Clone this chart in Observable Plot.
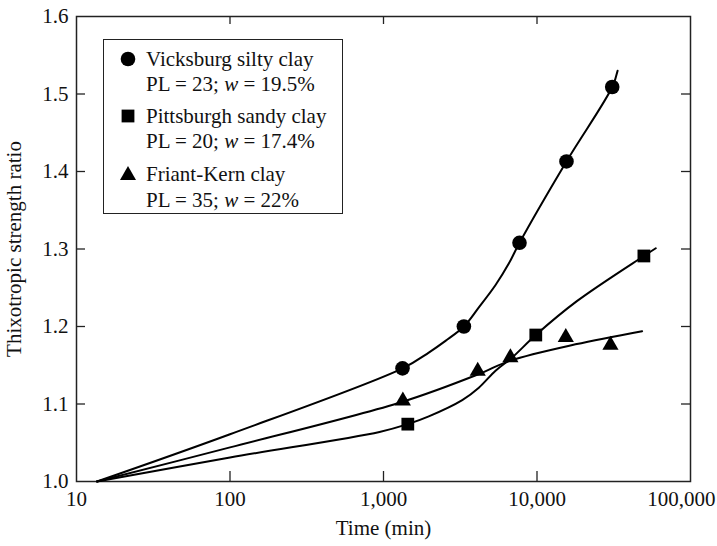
<!DOCTYPE html>
<html>
<head>
<meta charset="utf-8">
<script src="https://cdn.jsdelivr.net/npm/d3@7"></script>
<script src="https://cdn.jsdelivr.net/npm/@observablehq/plot@0.6"></script>
<style>
  body { margin: 0; background: #fff; }
  #wrap { position: relative; width: 717px; height: 546px; font-family: "Liberation Serif", serif; }
  #legend { position: absolute; left: 103px; top: 39px; width: 240px; height: 175px; box-sizing: border-box;
            border: 1.5px solid #222; background: #fff; }
  .row { position: absolute; left: 42px; font-size: 21px; line-height: 1; white-space: nowrap; color: #111;
         transform: translateY(-50%); }
  .sym { position: absolute; left: 15px; width: 18px; height: 18px; transform: translateY(-50%); }
</style>
</head>
<body>
<div id="wrap"></div>
<script>
// ---- Data ----
const seriesNames = ["Vicksburg silty clay", "Pittsburgh sandy clay", "Friant-Kern clay"];
const seriesProps = ["PL = 23; <i>w</i> = 19.5%", "PL = 20; <i>w</i> = 17.4%", "PL = 35; <i>w</i> = 22%"];
const seriesSymbols = ["circle", "square", "triangle"];

// measured points
const vicksX = [1330, 3340, 7690, 15560, 30900];
const vicksY = [1.146, 1.200, 1.308, 1.413, 1.509];
const pittsX = [1440, 9820, 49700];
const pittsY = [1.074, 1.189, 1.291];
const friantX = [1337, 4110, 6710, 15400, 30100];
const friantY = [1.104, 1.1425, 1.160, 1.186, 1.176];

// fitted curves
const vicksCurveX = [13.6, 100, 1330, 1972, 2535, 3340, 4180, 5370, 6550, 7690, 15560, 30900, 33500];
const vicksCurveY = [1.0, 1.061, 1.146, 1.1664, 1.1815, 1.200, 1.2246, 1.2535, 1.2812, 1.308, 1.413, 1.509, 1.530];
const pittsCurveX = [13.6, 100, 942, 1440, 1972, 3258, 4180, 5370, 6890, 9820, 18280, 49700, 59400];
const pittsCurveY = [1.0, 1.031, 1.064, 1.074, 1.084, 1.105, 1.121, 1.143, 1.160, 1.189, 1.233, 1.291, 1.301];
const friantCurveX = [13.6, 100, 1337, 4110, 6710, 17800, 48400];
const friantCurveY = [1.0, 1.044, 1.103, 1.138, 1.156, 1.177, 1.194];

// axis ticks
const xTicks = [10, 100, 1000, 10000];
const xLastTick = [100000];
const yTicks = [1.0, 1.1, 1.2, 1.3, 1.4, 1.5, 1.6];
const xInner = [100, 1000, 10000];
const yInner = [1.1, 1.2, 1.3, 1.4, 1.5];

const pts = (xs, ys) => xs.map((x, i) => ({x, y: ys[i]}));

const W = 717, H = 546, mL = 76, mR = 27, mT = 16, mB = 65;
const innerW = W - mL - mR, innerH = H - mT - mB;
const ink = "#111";

const chart = Plot.plot({
  width: W, height: H,
  marginLeft: mL, marginRight: mR, marginTop: mT, marginBottom: mB,
  style: {fontFamily: "Liberation Serif, serif", fontSize: "21px", color: ink, background: "#fff"},
  x: {type: "log", domain: [10, 100000]},
  y: {domain: [1.0, 1.6]},
  marks: [
    Plot.axisX(xTicks, {tickSize: 0, tickPadding: 10, tickFormat: d3.format(","),
      label: "Time (min)", labelAnchor: "center", labelArrow: "none", labelOffset: 53}),
    Plot.axisX(xLastTick, {tickSize: 0, tickPadding: 10, tickFormat: d3.format(","),
      textAnchor: "end", dx: 25, label: null}),
    Plot.axisY(yTicks, {tickSize: 0, tickPadding: 8, tickFormat: d3.format(".1f"),
      label: "Thixotropic strength ratio", labelAnchor: "center", labelArrow: "none", labelOffset: 70}),
    Plot.ruleX(xInner, {stroke: "#222", strokeWidth: 1.3, insetTop: innerH - 10}),
    Plot.ruleX(xInner, {stroke: "#222", strokeWidth: 1.3, insetBottom: innerH - 8}),
    Plot.ruleY(yInner, {stroke: "#222", strokeWidth: 1.3, insetRight: innerW - 9}),
    Plot.ruleY(yInner, {stroke: "#222", strokeWidth: 1.3, insetLeft: innerW - 9}),
    Plot.frame({stroke: "#222", strokeWidth: 1.5}),
    Plot.line(pts(vicksCurveX, vicksCurveY), {x: "x", y: "y", curve: "catmull-rom", stroke: "#000", strokeWidth: 2}),
    Plot.line(pts(pittsCurveX, pittsCurveY), {x: "x", y: "y", curve: "catmull-rom", stroke: "#000", strokeWidth: 2}),
    Plot.line(pts(friantCurveX, friantCurveY), {x: "x", y: "y", curve: "catmull-rom", stroke: "#000", strokeWidth: 2}),
    Plot.dot(pts(vicksX, vicksY), {x: "x", y: "y", symbol: "circle", r: 7.3, fill: "#000", stroke: "none"}),
    Plot.dot(pts(pittsX, pittsY), {x: "x", y: "y", symbol: "square", r: 7.2, fill: "#000", stroke: "none"}),
    Plot.dot(pts(friantX, friantY), {x: "x", y: "y", symbol: "triangle", r: 6.0, fill: "#000", stroke: "none"})
  ]
});

const wrap = document.getElementById("wrap");
wrap.appendChild(chart);

// legend (HTML overlay)
const legend = document.createElement("div");
legend.id = "legend";
const nameRows = [19, 76, 134];
const propRows = [44, 101, 160];
const symSvg = {
  circle: '<svg class="sym" viewBox="-9 -9 18 18"><circle r="7.3" fill="#000"/></svg>',
  square: '<svg class="sym" viewBox="-9 -9 18 18"><rect x="-6.4" y="-6.4" width="12.8" height="12.8" fill="#000"/></svg>',
  triangle: '<svg class="sym" viewBox="-9 -9 18 18"><path d="M0,-8L8,6L-8,6Z" fill="#000"/></svg>'
};
seriesNames.forEach((name, i) => {
  const s = document.createElement("div");
  s.innerHTML = symSvg[seriesSymbols[i]];
  const svg = s.firstChild;
  svg.style.top = nameRows[i] + "px";
  legend.appendChild(svg);
  const r1 = document.createElement("div");
  r1.className = "row"; r1.style.top = nameRows[i] + "px"; r1.textContent = name;
  legend.appendChild(r1);
  const r2 = document.createElement("div");
  r2.className = "row"; r2.style.top = propRows[i] + "px"; r2.innerHTML = seriesProps[i];
  legend.appendChild(r2);
});
wrap.appendChild(legend);
</script>
</body>
</html>
